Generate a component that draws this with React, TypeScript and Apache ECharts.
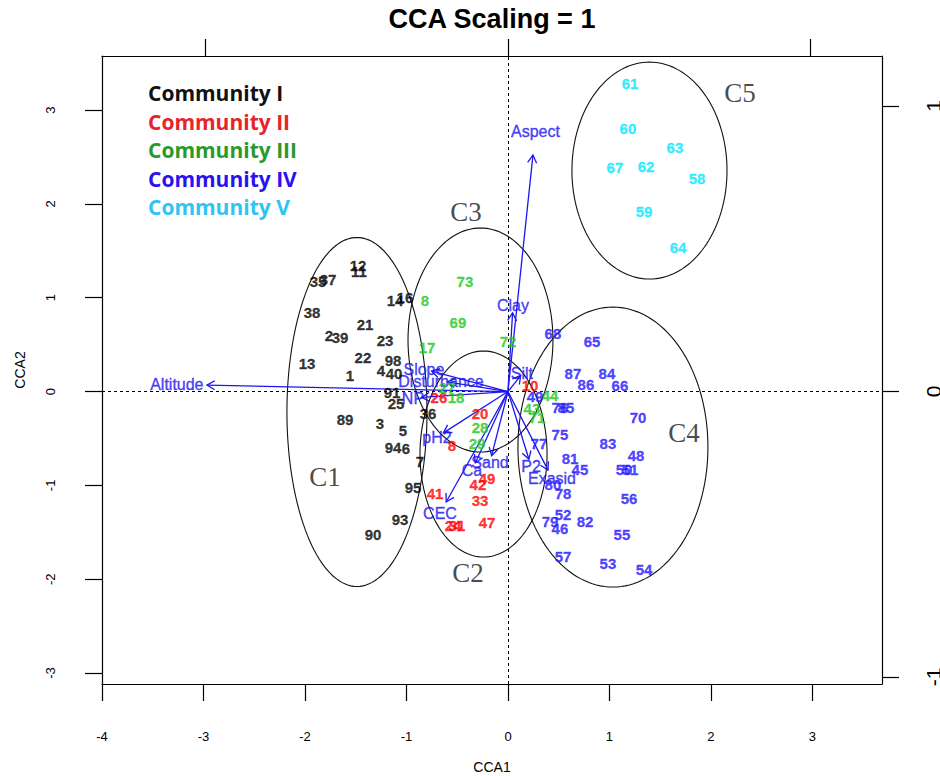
import React, { useEffect, useRef } from "react";
import * as echarts from "echarts";

// ---------- axis ticks ----------
const xTicks = [-4, -3, -2, -1, 0, 1, 2, 3];
const yTicks = [-3, -2, -1, 0, 1, 2, 3];
const topTicks = [-1, 0, 1];
const rightTicks = [-1, 0, 1];

// ---------- communities (legend) ----------
const communityNames = ["Community I", "Community II", "Community III", "Community IV", "Community V"];

// ---------- site scores: [CCA1, CCA2, site label] ----------
const community1Sites: [number, number, string][] = [
  [-1.478, 1.348, "12"], [-1.468, 1.274, "11"], [-1.872, 1.178, "35"], [-1.773, 1.199, "37"],
  [-1.931, 0.847, "38"], [-1.764, 0.592, "2"], [-1.655, 0.581, "39"], [-1.409, 0.719, "21"],
  [-1.212, 0.549, "23"], [-1.98, 0.304, "13"], [-1.429, 0.368, "22"], [-1.557, 0.176, "1"],
  [-1.113, 0.965, "14"], [-1.015, 1.007, "16"], [-1.133, 0.336, "98"], [-1.251, 0.219, "4"],
  [-1.123, 0.187, "40"], [-1.143, -0.005, "91"], [-1.103, -0.123, "25"], [-1.606, -0.293, "89"],
  [-1.261, -0.336, "3"], [-1.034, -0.41, "5"], [-0.788, -0.229, "36"], [-1.133, -0.592, "94"],
  [-1.005, -0.602, "6"], [-0.867, -0.751, "7"], [-0.936, -1.018, "95"], [-1.064, -1.359, "93"],
  [-1.33, -1.519, "90"],
];
const community2Sites: [number, number, string][] = [
  [0.217, 0.069, "10"], [-0.68, -0.059, "26"], [-0.276, -0.229, "20"], [-0.552, -0.57, "8"],
  [-0.719, -1.082, "41"], [-0.207, -0.922, "49"], [-0.296, -0.996, "42"], [-0.276, -1.156, "33"],
  [-0.207, -1.401, "47"], [-0.542, -1.423, "24"], [-0.502, -1.423, "31"],
];
const community3Sites: [number, number, string][] = [
  [-0.424, 1.178, "73"], [-0.818, 0.975, "8"], [-0.493, 0.741, "69"], [-0.798, 0.474, "17"],
  [0.0, 0.528, "72"], [-0.601, 0.048, "27"], [-0.512, -0.059, "18"], [-0.276, -0.378, "28"],
  [-0.305, -0.549, "29"], [0.414, -0.037, "44"], [0.236, -0.176, "43"], [0.286, -0.282, "71"],
];
const community4Sites: [number, number, string][] = [
  [0.443, 0.623, "68"], [0.828, 0.528, "65"], [0.64, 0.197, "87"], [0.768, 0.08, "86"],
  [0.975, 0.197, "84"], [1.103, 0.059, "66"], [0.266, -0.048, "49"], [0.512, -0.165, "76"],
  [0.571, -0.165, "85"], [1.281, -0.272, "70"], [0.512, -0.453, "75"], [0.305, -0.549, "77"],
  [0.985, -0.549, "83"], [1.261, -0.677, "48"], [0.611, -0.709, "81"], [0.709, -0.826, "45"],
  [1.143, -0.826, "50"], [1.202, -0.826, "51"], [0.443, -0.996, "80"], [0.542, -1.092, "78"],
  [1.192, -1.145, "56"], [0.542, -1.306, "52"], [0.414, -1.38, "79"], [0.512, -1.455, "46"],
  [0.759, -1.38, "82"], [1.123, -1.519, "55"], [0.542, -1.753, "57"], [0.985, -1.837, "53"],
  [1.34, -1.902, "54"],
];
const community5Sites: [number, number, string][] = [
  [1.202, 3.288, "61"], [1.182, 2.808, "60"], [1.645, 2.606, "63"], [1.054, 2.393, "67"],
  [1.36, 2.403, "62"], [1.862, 2.275, "58"], [1.34, 1.924, "59"], [1.675, 1.54, "64"],
];

// ---------- environmental vectors (arrow tips) ----------
const envNames = ["Altitude", "Aspect", "Clay", "Silt", "Slope", "Disturbance", "NP", "pH2", "Sand", "Ca", "CEC", "P2", "Exasid"];
const envX = [-2.966, 0.246, 0.045, 0.125, -0.753, -0.6, -0.851, -0.636, -0.161, -0.322, -0.609, 0.206, 0.394];
const envY = [0.069, 2.52, 0.838, 0.17, 0.218, 0.102, -0.063, -0.441, -0.683, -0.761, -1.177, -0.722, -0.838];
const envLabelMul = 1.1;

// ---------- community ellipses ----------
const clusterNames = ["C1", "C2", "C3", "C4", "C5"];
const clusterCx = [-1.488, -0.241, -0.271, 1.034, 1.394];
const clusterCy = [-0.218, -0.666, 0.549, -0.592, 2.355];
const clusterRx = [0.69, 0.626, 0.714, 0.936, 0.764];
const clusterRy = [1.86, 1.098, 1.194, 1.492, 1.156];
const clusterLabelX = [-1.803, -0.394, -0.414, 1.734, 2.286];
const clusterLabelY = [-0.911, -1.934, 1.913, -0.442, 3.181];

// ---------- styles ----------
const SANS = "'Liberation Sans', Arial, Helvetica, sans-serif";
const pointColors = ["#000000", "#FF0000", "#1FC81F", "#2414FF", "#00E8FF"];
const legendColors = ["#111111", "#E8232B", "#2A992A", "#2A12F0", "#2EC5F2"];
const envColor = "#1E16F0";

export default function App() {
  const ref = useRef<HTMLDivElement>(null);
  useEffect(() => {
    if (!ref.current) return;
    const chart = echarts.init(ref.current, undefined, { renderer: "svg" });

    const allSites = [community1Sites, community2Sites, community3Sites, community4Sites, community5Sites];

    const siteSeries = allSites.map((sites, i) => ({
      type: "scatter",
      name: communityNames[i],
      xAxisIndex: 0,
      yAxisIndex: 0,
      symbolSize: 1,
      itemStyle: { color: "transparent" },
      z: 10,
      silent: true,
      data: sites.map((s) => ({ value: [s[0], s[1]], name: s[2] })),
      label: {
        show: true,
        position: "inside",
        formatter: "{b}",
        color: pointColors[i],
        textBorderColor: pointColors[i],
        textBorderWidth: 0.3,
        fontSize: 15,
        fontWeight: "bold",
        fontFamily: SANS,
      },
    }));

    const arrowSeries = {
      type: "custom",
      xAxisIndex: 0,
      yAxisIndex: 0,
      z: 6,
      silent: true,
      encode: { x: 0, y: 1 },
      data: envX.map((x, i) => [x, envY[i]]),
      renderItem: (params: any, api: any) => {
        const o = api.coord([0, 0]);
        const t = api.coord([api.value(0), api.value(1)]);
        const ang = Math.atan2(t[1] - o[1], t[0] - o[0]);
        const L = 9;
        const a = Math.PI / 6;
        const p1 = [t[0] - L * Math.cos(ang - a), t[1] - L * Math.sin(ang - a)];
        const p2 = [t[0] - L * Math.cos(ang + a), t[1] - L * Math.sin(ang + a)];
        return {
          type: "group",
          children: [
            { type: "line", shape: { x1: o[0], y1: o[1], x2: t[0], y2: t[1] }, style: { stroke: envColor, lineWidth: 1.3 } },
            { type: "polyline", shape: { points: [p1, t, p2] }, style: { stroke: envColor, lineWidth: 1.3, fill: null } },
          ],
        };
      },
    };

    const envLabelSeries = {
      type: "scatter",
      xAxisIndex: 0,
      yAxisIndex: 0,
      symbolSize: 1,
      itemStyle: { color: "transparent" },
      z: 9,
      silent: true,
      data: envNames.map((n, i) => ({ value: [envX[i] * envLabelMul, envY[i] * envLabelMul], name: n })),
      label: {
        show: true,
        position: "inside",
        formatter: "{b}",
        color: envColor,
        textBorderColor: envColor,
        textBorderWidth: 0.4,
        fontSize: 16,
        fontFamily: SANS,
      },
    };

    const ellipseSeries = {
      type: "custom",
      xAxisIndex: 0,
      yAxisIndex: 0,
      z: 3,
      silent: true,
      encode: { x: 0, y: 1 },
      data: clusterCx.map((cx, i) => [cx, clusterCy[i], clusterRx[i], clusterRy[i]]),
      renderItem: (params: any, api: any) => {
        const cx = api.value(0);
        const cy = api.value(1);
        const rx = api.value(2);
        const ry = api.value(3);
        const pts: number[][] = [];
        for (let k = 0; k <= 144; k++) {
          const t = (k / 144) * Math.PI * 2;
          pts.push(api.coord([cx + rx * Math.cos(t), cy + ry * Math.sin(t)]));
        }
        return { type: "polyline", shape: { points: pts }, style: { stroke: "#111", lineWidth: 1.1, fill: null } };
      },
    };

    const clusterLabelSeries = {
      type: "scatter",
      xAxisIndex: 0,
      yAxisIndex: 0,
      symbolSize: 1,
      itemStyle: { color: "transparent" },
      z: 4,
      silent: true,
      data: clusterNames.map((n, i) => ({ value: [clusterLabelX[i], clusterLabelY[i]], name: n })),
      label: {
        show: true,
        position: "inside",
        formatter: "{b}",
        color: "#1a1a1a",
        fontSize: 27,
        fontFamily: "'Liberation Serif', 'Times New Roman', serif",
      },
      markLine: {
        silent: true,
        symbol: "none",
        label: { show: false },
        lineStyle: { color: "#000", type: [3, 3], width: 1 },
        data: [{ xAxis: 0 }, { yAxis: 0 }],
      },
    };

    const axisCommon = {
      type: "value",
      splitLine: { show: false },
      axisLine: { show: true, onZero: false, lineStyle: { color: "#000", width: 1.2 } },
      axisTick: { show: true, inside: false, length: 17, lineStyle: { color: "#000", width: 1.2 } },
    };

    const legendGraphics = communityNames.map((n, i) => ({
      type: "text",
      x: 148,
      y: 93 + i * 28.6,
      style: {
        text: n,
        fill: legendColors[i],
        fontSize: 21,
        fontWeight: "bold",
        fontFamily: "'Open Sans', 'Noto Sans', sans-serif",
        align: "left",
        verticalAlign: "middle",
      },
    }));

    chart.setOption({
      animation: false,
      backgroundColor: "#fff",
      grid: { left: 102, top: 56, right: 58, bottom: 92, containLabel: false, outerBoundsMode: "none" },
      xAxis: [
        {
          ...axisCommon,
          position: "bottom",
          min: -4,
          max: 3.685,
          axisTick: { ...axisCommon.axisTick, customValues: xTicks },
          axisLabel: { customValues: xTicks, margin: 46, color: "#000", fontSize: 13, fontFamily: SANS },
        },
        {
          ...axisCommon,
          position: "top",
          min: -1.342,
          max: 1.236,
          axisTick: { ...axisCommon.axisTick, customValues: topTicks },
          axisLabel: { show: false },
        },
      ],
      yAxis: [
        {
          ...axisCommon,
          position: "left",
          min: -3.117,
          max: 3.576,
          axisTick: { ...axisCommon.axisTick, customValues: yTicks },
          axisLabel: { customValues: yTicks, margin: 45, rotate: 90, color: "#000", fontSize: 13, fontFamily: SANS },
        },
        {
          ...axisCommon,
          position: "right",
          min: -1.0245,
          max: 1.175,
          axisTick: { ...axisCommon.axisTick, customValues: rightTicks },
          axisLabel: { customValues: rightTicks, margin: 41, rotate: 90, color: "#000", fontSize: 21, fontFamily: SANS },
        },
      ],
      graphic: [
        {
          type: "text",
          x: 492,
          y: 19,
          style: { text: "CCA Scaling = 1", fill: "#000", fontSize: 27, fontWeight: "bold", fontFamily: SANS, align: "center", verticalAlign: "middle" },
        },
        {
          type: "text",
          x: 492,
          y: 767,
          style: { text: "CCA1", fill: "#000", fontSize: 14, fontFamily: SANS, align: "center", verticalAlign: "middle" },
        },
        {
          type: "text",
          x: 20,
          y: 370,
          rotation: Math.PI / 2,
          style: { text: "CCA2", fill: "#000", fontSize: 14, fontFamily: SANS, align: "center", verticalAlign: "middle" },
        },
        ...legendGraphics,
      ],
      series: [ellipseSeries, clusterLabelSeries, arrowSeries, envLabelSeries, ...siteSeries],
    });

    return () => chart.dispose();
  }, []);

  return <div ref={ref} style={{ position: "absolute", left: 0, top: 0, width: 940, height: 776 }} />;
}
